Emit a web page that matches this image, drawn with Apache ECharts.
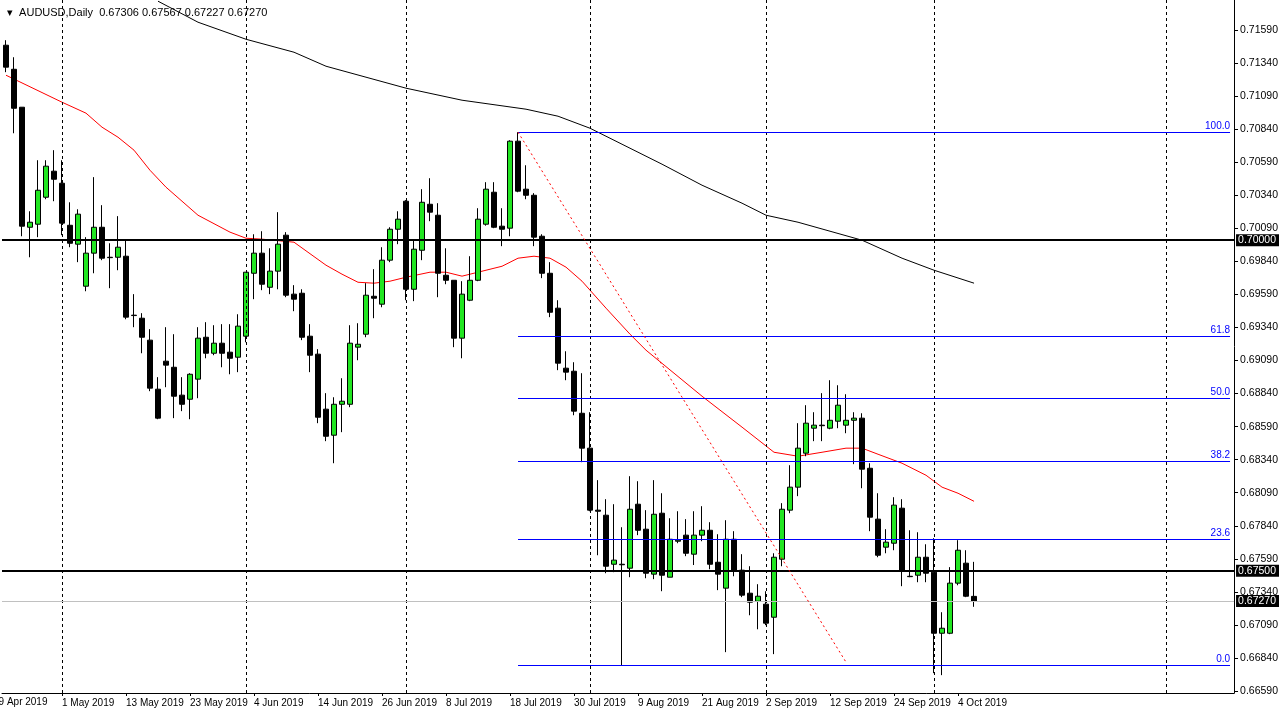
<!DOCTYPE html>
<html><head><meta charset="utf-8">
<script src="https://cdn.jsdelivr.net/npm/echarts@6/dist/echarts.min.js"></script>
<style>html,body{margin:0;padding:0;background:#fff}#c{width:1281px;height:711px}</style>
</head><body><div id="c"></div>
<script>
const symbolName = 'AUDUSD,Daily';
const opens = [0.71475,0.71293,0.71006,0.70098,0.70121,0.70325,0.70522,0.70431,0.70113,0.69970,
0.69652,0.69902,0.70098,0.69871,0.69871,0.69879,0.69433,0.69410,0.69244,0.68873,
0.69085,0.69039,0.68828,0.68797,0.68949,0.69266,0.69145,0.69221,0.69153,0.69115,
0.69274,0.69750,0.69902,0.69644,0.69766,0.70038,0.69592,0.69599,0.69274,0.69138,
0.68722,0.68525,0.68759,0.68759,0.69191,0.69289,0.69576,0.69516,0.69849,0.70083,
0.70295,0.69629,0.69924,0.70272,0.70189,0.69735,0.69697,0.69259,0.69546,0.69697,
0.70121,0.70363,0.70106,0.70091,0.70749,0.70386,0.70340,0.70030,0.69750,0.69486,
0.69032,0.69009,0.68691,0.68427,0.67958,0.67920,0.67549,0.67549,0.67519,0.68003,
0.67814,0.67474,0.67935,0.67451,0.67723,0.67769,0.67625,0.67769,0.67806,0.67564,
0.67368,0.67738,0.67504,0.67330,0.67269,0.67247,0.67148,0.67587,0.67958,0.68132,
0.68389,0.68578,0.68601,0.68578,0.68631,0.68601,0.68638,0.68654,0.68275,0.67890,
0.67678,0.67708,0.67973,0.67458,0.67466,0.67602,0.67489,0.67027,0.67027,0.67406,
0.67557,0.67306];
const closes = [0.71309,0.70998,0.70106,0.70136,0.70378,0.70560,0.70461,0.70129,0.69977,0.70197,
0.69902,0.70098,0.69864,0.69868,0.69947,0.69418,0.69430,0.69266,0.68881,0.68654,
0.69055,0.68820,0.68759,0.68986,0.69259,0.69145,0.69221,0.69145,0.69107,0.69350,
0.69758,0.69902,0.69667,0.69766,0.69970,0.69584,0.69554,0.69266,0.69130,0.68661,
0.68517,0.68759,0.68782,0.69221,0.69213,0.69584,0.69561,0.69849,0.70083,0.70159,
0.69629,0.69932,0.70287,0.70212,0.69750,0.69697,0.69259,0.69592,0.69697,0.70159,
0.70386,0.70098,0.70083,0.70749,0.70371,0.70340,0.70023,0.69750,0.69455,0.69070,
0.69002,0.68707,0.68427,0.67958,0.67950,0.67534,0.67580,0.67545,0.67965,0.67806,
0.67481,0.67927,0.67466,0.67738,0.67731,0.67632,0.67769,0.67806,0.67549,0.67474,
0.67738,0.67504,0.67315,0.67262,0.67307,0.67103,0.67602,0.67965,0.68132,0.68427,
0.68616,0.68601,0.68597,0.68638,0.68752,0.68638,0.68654,0.68268,0.67905,0.67617,
0.67716,0.67996,0.67496,0.67455,0.67602,0.67481,0.67027,0.67065,0.67406,0.67655,
0.67307,0.67270];
const highs = [0.71513,0.71384,0.71006,0.70219,0.70605,0.70605,0.70681,0.70605,0.70287,0.70234,
0.70023,0.70477,0.70265,0.69977,0.70182,0.70000,0.69592,0.69448,0.69327,0.68964,
0.69342,0.69289,0.68964,0.68994,0.69342,0.69380,0.69357,0.69365,0.69365,0.69440,
0.69758,0.70045,0.70068,0.69939,0.70212,0.70061,0.69660,0.69629,0.69365,0.69176,
0.68843,0.68812,0.68956,0.69357,0.69372,0.69675,0.69781,0.69947,0.70098,0.70219,
0.70303,0.70000,0.70386,0.70469,0.70280,0.69939,0.69697,0.69690,0.69879,0.70242,
0.70439,0.70439,0.70242,0.70756,0.70817,0.70567,0.70356,0.70045,0.69834,0.69546,
0.69160,0.69077,0.68994,0.68699,0.68185,0.68041,0.68003,0.67829,0.68215,0.68177,
0.67958,0.68185,0.68086,0.67897,0.67950,0.67890,0.67950,0.67988,0.67867,0.67776,
0.67882,0.67799,0.67625,0.67534,0.67398,0.67345,0.67632,0.68011,0.68298,0.68616,
0.68752,0.68699,0.68843,0.68941,0.68903,0.68835,0.68699,0.68691,0.68313,0.68086,
0.67814,0.68056,0.68041,0.67806,0.67791,0.67700,0.67746,0.67186,0.67527,0.67731,
0.67655,0.67567];
const lows = [0.71271,0.70809,0.70030,0.69871,0.70023,0.70310,0.70295,0.70038,0.69947,0.69834,
0.69614,0.69750,0.69849,0.69637,0.69773,0.69402,0.69342,0.69145,0.68858,0.68646,
0.68888,0.68654,0.68707,0.68646,0.68805,0.69107,0.69130,0.69039,0.68986,0.69002,
0.69228,0.69554,0.69622,0.69592,0.69629,0.69569,0.69463,0.69244,0.69002,0.68616,
0.68480,0.68313,0.68548,0.68737,0.69092,0.69266,0.69410,0.69493,0.69834,0.69970,
0.69546,0.69539,0.69849,0.70144,0.69569,0.69667,0.69191,0.69107,0.69539,0.69690,
0.70110,0.70091,0.69955,0.70030,0.70363,0.70310,0.69955,0.69713,0.69418,0.69017,
0.68941,0.68676,0.68321,0.67950,0.67617,0.67481,0.67489,0.66785,0.67451,0.67769,
0.67443,0.67436,0.67345,0.67451,0.67708,0.67610,0.67543,0.67723,0.67511,0.67353,
0.66884,0.67458,0.67300,0.67163,0.67057,0.67088,0.66869,0.67534,0.67935,0.68064,
0.68366,0.68480,0.68480,0.68570,0.68578,0.68540,0.68306,0.68124,0.67799,0.67602,
0.67632,0.67655,0.67383,0.67451,0.67413,0.67413,0.66725,0.66710,0.67020,0.67390,
0.67300,0.67227];
const maRedIdx = [0,7,10,12,14,16,18,20,22,24,28,30,32,36,40,42,44,46,48,50,53,55,57,60,62,64,66,68,70,72,75,78,80,87,92,96,99,102,105,107,109,112,115,117,119,121];
const maRedVal = [0.71248,0.71044,0.70961,0.70855,0.70779,0.70681,0.70529,0.70401,0.70295,0.70189,0.70061,0.70015,0.70008,0.69985,0.69811,0.69743,0.69682,0.69675,0.69690,0.69720,0.69758,0.69758,0.69728,0.69773,0.69803,0.69864,0.69879,0.69864,0.69796,0.69690,0.69486,0.69289,0.69168,0.68820,0.68586,0.68396,0.68366,0.68396,0.68427,0.68427,0.68381,0.68313,0.68222,0.68132,0.68086,0.68025];
const maBlackIdx = [19,24,30,36,40,50,57,65,69,73,77,82,87,92,95,99,107,112,116,121];
const maBlackVal = [0.71808,0.71649,0.71520,0.71422,0.71316,0.71150,0.71059,0.70991,0.70938,0.70847,0.70726,0.70575,0.70416,0.70280,0.70189,0.70136,0.70000,0.69864,0.69773,0.69675];
const firstDateLabel = '19 Apr 2019';
const dateLabels = ['1 May 2019','13 May 2019','23 May 2019','4 Jun 2019','14 Jun 2019','26 Jun 2019','8 Jul 2019','18 Jul 2019','30 Jul 2019','9 Aug 2019','21 Aug 2019','2 Sep 2019','12 Sep 2019','24 Sep 2019','4 Oct 2019'];
const dateLabelSlots = [7,15,23,31,39,47,55,63,71,79,87,95,103,111,119];
const monthStartSlots = [7,30,50,73,95,116,145];
const priceTicks = [0.71590,0.71340,0.71090,0.70840,0.70590,0.70340,0.70090,0.69840,0.69590,0.69340,0.69090,0.68840,0.68590,0.68340,0.68090,0.67840,0.67590,0.67340,0.67090,0.66840,0.66590];
const levelLines = [0.70000,0.67500];
const fibLevels = [100.0,61.8,50.0,38.2,23.6,0.0];
const fibHigh = 0.70817, fibLow = 0.66785, fibStartSlot = 64;
const trendStart = [64,0.70817], trendEnd = [105,0.66808];

const N = 154;
const cats = []; for (let k=0;k<N;k++) cats.push(String(k));
const candleData = cats.map((c,k)=>(k<opens.length)?[opens[k],closes[k],lows[k],highs[k]]:'-');
function sparse(idx,val){const a=cats.map(()=>null); idx.forEach((i,j)=>a[i]=val[j]); return a;}
const labelMap={}; dateLabelSlots.forEach((s,j)=>labelMap[s]=dateLabels[j]);
const last=opens.length-1;
const header = '\u25BE  ' + symbolName + '  ' + [opens[last],highs[last],lows[last],closes[last]].map(v=>v.toFixed(5)).join(' ');
const font = 'Liberation Sans';
const boxLabel = {show:true,position:'end',distance:2,formatter:p=>Number(p.value).toFixed(5),color:'#fff',backgroundColor:'#000',padding:[1,3,0,2],fontFamily:font,fontSize:10.5};
const fibMarks = fibLevels.map(l=>{const v=fibLow+(fibHigh-fibLow)*l/100; return [{coord:[String(fibStartSlot),v],lineStyle:{color:'#0000ff',width:1,type:'solid'},label:{show:true,position:'insideEndTop',formatter:l.toFixed(1),color:'#0000ff',fontFamily:font,fontSize:10,distance:[0,1]}},{coord:[String(N-1),v]}];});

const chart = echarts.init(document.getElementById('c'),null,{renderer:'canvas'});
chart.setOption({
  animation:false,
  backgroundColor:'#fff',
  title:{text:header,left:2,top:2,textStyle:{fontFamily:font,fontSize:11,fontWeight:'normal',color:'#000'}},
  graphic:[{type:'text',x:-7,y:697,silent:true,style:{text:firstDateLabel,fill:'#000',font:'10px "Liberation Sans"'}}],
  grid:{left:2,right:44,top:0,bottom:18},
  xAxis:{type:'category',data:cats,boundaryGap:true,
    axisLine:{lineStyle:{color:'#000',width:1}},
    axisTick:{show:true,alignWithLabel:true,length:3,interval:(i)=>labelMap[i]!==undefined,lineStyle:{color:'#000'}},
    axisLabel:{interval:(i)=>labelMap[i]!==undefined,formatter:(v,i)=>labelMap[i]||'',align:'left',margin:5,color:'#000',fontFamily:font,fontSize:10},
    splitLine:{show:false}},
  yAxis:{type:'value',position:'right',min:0.66575,max:0.71817,scale:true,
    axisLine:{show:true,lineStyle:{color:'#000'}},
    axisTick:{show:true,length:4,customValues:priceTicks,lineStyle:{color:'#000'}},
    axisLabel:{customValues:priceTicks,formatter:v=>v.toFixed(5),color:'#000',fontFamily:font,fontSize:10.5,margin:6},
    splitLine:{show:false}},
  series:[
    {type:'candlestick',data:candleData,barWidth:5,
     itemStyle:{color:'#22e622',color0:'#000',borderColor:'#000',borderColor0:'#000',borderWidth:1},
     markLine:{silent:true,symbol:['none','none'],precision:5,animation:false,
       data:[
         ...monthStartSlots.map(s=>({xAxis:String(s),lineStyle:{color:'#000',type:[3,3],width:1},label:{show:false}})),
         {yAxis:closes[last],lineStyle:{color:'#c0c0c0',type:'solid',width:1},label:boxLabel},
         ...levelLines.map(v=>({yAxis:v,lineStyle:{color:'#000',type:'solid',width:2},label:boxLabel})),
         ...fibMarks,
         [{coord:[String(trendStart[0]),trendStart[1]],lineStyle:{color:'#ff0000',type:[2,3],width:1},label:{show:false}},{coord:[String(trendEnd[0]),trendEnd[1]]}]
       ]}},
    {type:'line',data:sparse(maRedIdx,maRedVal),connectNulls:true,showSymbol:false,lineStyle:{color:'#ff0000',width:1},z:1},
    {type:'line',data:sparse(maBlackIdx,maBlackVal),connectNulls:true,showSymbol:false,lineStyle:{color:'#000',width:1},z:1}
  ]
});
</script></body></html>
